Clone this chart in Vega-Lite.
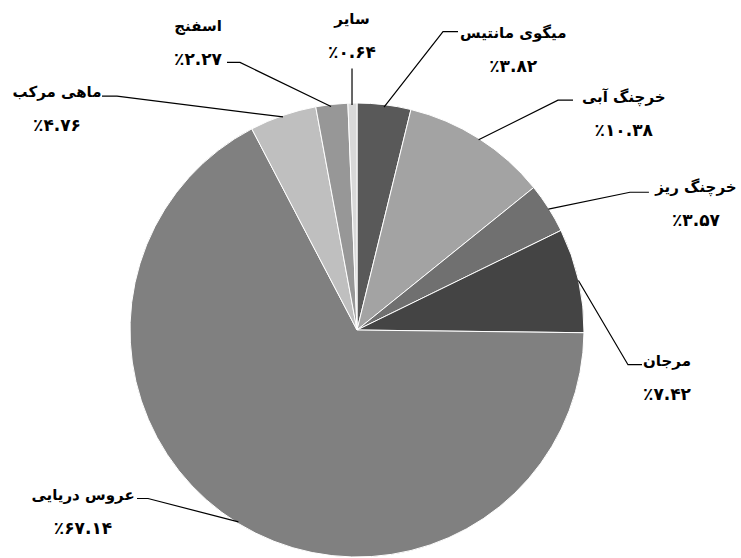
{
  "$schema": "https://vega.github.io/schema/vega-lite/v6.json",
  "width": 741,
  "height": 558,
  "autosize": {"type": "fit", "contains": "padding"},
  "padding": 0,
  "background": "white",
  "config": {"view": {"stroke": null}, "text": {"font": "DejaVu Sans", "fontWeight": "bold"}},
  "datasets": {
    "slices": [
      {"name": "میگوی مانتیس", "value": 3.82},
      {"name": "خرچنگ آبی", "value": 10.38},
      {"name": "خرچنگ ریز", "value": 3.57},
      {"name": "مرجان", "value": 7.42},
      {"name": "عروس دریایی", "value": 67.14},
      {"name": "ماهی مرکب", "value": 4.76},
      {"name": "اسفنج", "value": 2.27},
      {"name": "سایر", "value": 0.64}
    ],
    "labels": [
      {"name": "میگوی مانتیس", "pct": "٪۳.۸۲", "lx": 68.8, "ly": 124.67},
      {"name": "خرچنگ آبی", "pct": "٪۱۰.۳۸", "lx": 117.5, "ly": 96.04},
      {"name": "خرچنگ ریز", "pct": "٪۳.۵۷", "lx": 149.3, "ly": 55.95},
      {"name": "مرجان", "pct": "٪۷.۴۲", "lx": 136.56, "ly": -21.15},
      {"name": "عروس دریایی", "pct": "٪۶۷.۱۴", "lx": -120.7, "ly": -81.06},
      {"name": "ماهی مرکب", "pct": "٪۴.۷۶", "lx": -132.16, "ly": 98.24},
      {"name": "اسفنج", "pct": "٪۲.۲۷", "lx": -70.04, "ly": 127.75},
      {"name": "سایر", "pct": "٪۰.۶۴", "lx": -2.2, "ly": 130.84}
    ],
    "leaders": [
      {"name": "میگوی مانتیس", "seq": 1, "lx": 11.89, "ly": 99.12},
      {"name": "میگوی مانتیس", "seq": 2, "lx": 37.89, "ly": 132.6},
      {"name": "میگوی مانتیس", "seq": 3, "lx": 44.49, "ly": 132.6},
      {"name": "خرچنگ آبی", "seq": 1, "lx": 53.57, "ly": 84.58},
      {"name": "خرچنگ آبی", "seq": 2, "lx": 88.55, "ly": 102.2},
      {"name": "خرچنگ آبی", "seq": 3, "lx": 95.15, "ly": 102.2},
      {"name": "خرچنگ ریز", "seq": 1, "lx": 84.32, "ly": 53.74},
      {"name": "خرچنگ ریز", "seq": 2, "lx": 120.26, "ly": 61.23},
      {"name": "خرچنگ ریز", "seq": 3, "lx": 128.6, "ly": 61.23},
      {"name": "مرجان", "seq": 1, "lx": 97.53, "ly": 22.03},
      {"name": "مرجان", "seq": 2, "lx": 119.38, "ly": -15.42},
      {"name": "مرجان", "seq": 3, "lx": 125.55, "ly": -15.42},
      {"name": "عروس دریایی", "seq": 1, "lx": -52.25, "ly": -85.29},
      {"name": "عروس دریایی", "seq": 2, "lx": -92.07, "ly": -74.89},
      {"name": "عروس دریایی", "seq": 3, "lx": -96.92, "ly": -74.89},
      {"name": "ماهی مرکب", "seq": 1, "lx": -32.6, "ly": 94.71},
      {"name": "ماهی مرکب", "seq": 2, "lx": -105.73, "ly": 103.96},
      {"name": "ماهی مرکب", "seq": 3, "lx": -112.33, "ly": 103.96},
      {"name": "اسفنج", "seq": 1, "lx": -11.45, "ly": 99.34},
      {"name": "اسفنج", "seq": 2, "lx": -51.54, "ly": 118.94},
      {"name": "اسفنج", "seq": 3, "lx": -57.27, "ly": 118.94},
      {"name": "سایر", "seq": 1, "lx": -2.2, "ly": 100.0},
      {"name": "سایر", "seq": 2, "lx": -2.2, "ly": 116.3}
    ]
  },
  "layer": [
    {
      "data": {"name": "slices"},
      "transform": [{"window": [{"op": "row_number", "as": "idx"}]}],
      "mark": {"type": "arc", "outerRadius": 227, "stroke": "white", "strokeWidth": 1},
      "encoding": {
        "x": {"datum": 0, "type": "quantitative", "scale": {"domain": [-157.27, 169.16], "nice": false, "zero": false}, "axis": null},
        "y": {"datum": 0, "type": "quantitative", "scale": {"domain": [-99.12, 146.7], "nice": false, "zero": false}, "axis": null},
        "theta": {"field": "value", "type": "quantitative", "stack": true},
        "order": {"field": "idx", "type": "quantitative"},
        "color": {
          "field": "name",
          "type": "nominal",
          "legend": null,
          "scale": {
            "domain": ["میگوی مانتیس", "خرچنگ آبی", "خرچنگ ریز", "مرجان", "عروس دریایی", "ماهی مرکب", "اسفنج", "سایر"],
            "range": ["#595959", "#a3a3a3", "#707070", "#444444", "#808080", "#bfbfbf", "#979797", "#d9d9d9"]
          }
        }
      }
    },
    {
      "data": {"name": "leaders"},
      "mark": {"type": "line", "color": "black", "strokeWidth": 1.2},
      "encoding": {
        "x": {"field": "lx", "type": "quantitative", "scale": {"domain": [-157.27, 169.16], "nice": false, "zero": false}, "axis": null},
        "y": {"field": "ly", "type": "quantitative", "scale": {"domain": [-99.12, 146.7], "nice": false, "zero": false}, "axis": null},
        "detail": {"field": "name", "type": "nominal"},
        "order": {"field": "seq", "type": "quantitative"}
      }
    },
    {
      "data": {"name": "labels"},
      "mark": {"type": "text", "fontSize": 15, "dy": -17, "align": "center", "baseline": "middle", "color": "black"},
      "encoding": {
        "x": {"field": "lx", "type": "quantitative", "scale": {"domain": [-157.27, 169.16], "nice": false, "zero": false}, "axis": null},
        "y": {"field": "ly", "type": "quantitative", "scale": {"domain": [-99.12, 146.7], "nice": false, "zero": false}, "axis": null},
        "text": {"field": "name", "type": "nominal"}
      }
    },
    {
      "data": {"name": "labels"},
      "mark": {"type": "text", "fontSize": 17, "dy": 17, "align": "center", "baseline": "middle", "color": "black"},
      "encoding": {
        "x": {"field": "lx", "type": "quantitative", "scale": {"domain": [-157.27, 169.16], "nice": false, "zero": false}, "axis": null},
        "y": {"field": "ly", "type": "quantitative", "scale": {"domain": [-99.12, 146.7], "nice": false, "zero": false}, "axis": null},
        "text": {"field": "pct", "type": "nominal"}
      }
    }
  ]
}
